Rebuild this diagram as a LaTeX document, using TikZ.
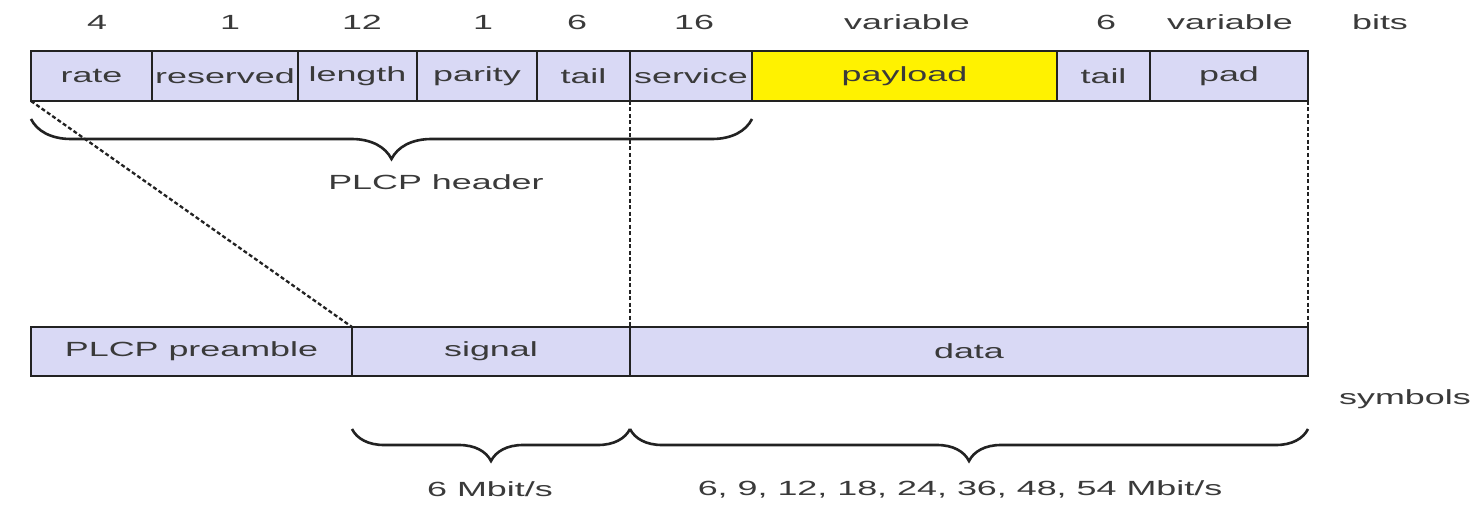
\documentclass[tikz,border=0pt]{standalone}
\usepackage{fontspec}
\setmainfont{Liberation Sans}[FakeStretch=1.75]
\usetikzlibrary{decorations.pathreplacing}
\definecolor{cellfill}{HTML}{D9D9F5}
\definecolor{payfill}{HTML}{FFF200}
\definecolor{txt}{HTML}{3A3A3A}
\definecolor{ln}{HTML}{222222}
\tikzset{
  cell/.style={draw=ln, line width=2.6pt, fill=cellfill, rectangle, inner sep=0pt, outer sep=0pt,
    text=txt, font=\fontsize{20.5}{24}\selectfont},
  lbl/.style={text=txt, font=\fontsize{20.5}{24}\selectfont, inner sep=0pt},
  dashln/.style={draw=ln, line width=2.3pt, dash pattern=on 4pt off 2.5pt},
  bracebig/.style={draw=ln, line width=2.6pt, decorate, decoration={brace, amplitude=40pt}},
  bracesmall/.style={draw=ln, line width=2.6pt, decorate, decoration={brace, amplitude=32pt}}
}
\begin{document}
\begin{tikzpicture}[x=1pt,y=-1pt]
\useasboundingbox[fill=white] (0,0) rectangle (1472,508);
% top row
\node[cell, minimum width=121pt, minimum height=50pt] (rate) at (91.5,76) {rate};
\node[cell, minimum width=146pt, minimum height=50pt] (reserved) at (225,76) {reserved};
\node[cell, minimum width=119pt, minimum height=50pt] (length) at (357.5,76) {length};
\node[cell, minimum width=120pt, minimum height=50pt] (parity) at (477,76) {parity};
\node[cell, minimum width=93pt, minimum height=50pt] (tailA) at (583.5,76) {tail};
\node[cell, minimum width=122pt, minimum height=50pt] (service) at (691,76) {service};
\node[cell, fill=payfill, minimum width=305pt, minimum height=50pt] (payload) at (904.5,76) {payload};
\node[cell, minimum width=93pt, minimum height=50pt] (tailB) at (1103.5,76) {tail};
\node[cell, minimum width=158pt, minimum height=50pt] (pad) at (1229,76) {pad};
% bit counts
\node[lbl] (b1) at (97,22) {4};
\node[lbl] (b2) at (230,22) {1};
\node[lbl] (b3) at (362,22) {12};
\node[lbl] (b4) at (483,22) {1};
\node[lbl] (b5) at (577,22) {6};
\node[lbl] (b6) at (694,22) {16};
\node[lbl] (b7) at (907,22) {variable};
\node[lbl] (b8) at (1106,22) {6};
\node[lbl] (b9) at (1230,22) {variable};
\node[lbl] (bits) at (1380,22) {bits};
% bottom row
\node[cell, minimum width=321pt, minimum height=49pt] (preamble) at (191.5,351.5) {PLCP preamble};
\node[cell, minimum width=278pt, minimum height=49pt] (signal) at (491,351.5) {signal};
\node[cell, minimum width=678pt, minimum height=49pt] (data) at (969,351.5) {data};
\node[lbl] (symbols) at (1405,399) {symbols};
% dashed connectors
\draw[dashln] (rate.south west) -- (signal.north west);
\draw[dashln] (service.south west) -- (data.north west);
\draw[dashln] (pad.south east) -- (data.north east);
% braces
\draw[bracebig] ([yshift=-18pt]service.south east) -- ([yshift=-18pt]rate.south west);
\node[lbl] (hdr) at (436,182) {PLCP header};
\draw[bracesmall] ([yshift=-53pt]signal.south east) -- ([yshift=-53pt]signal.south west);
\draw[bracesmall] ([yshift=-53pt]data.south east) -- ([yshift=-53pt]data.south west);
\node[lbl] (r1) at (490,489) {6 Mbit/s};
\node[lbl] (r2) at (960,489) {6, 9, 12, 18, 24, 36, 48, 54 Mbit/s};
\end{tikzpicture}
\end{document}
